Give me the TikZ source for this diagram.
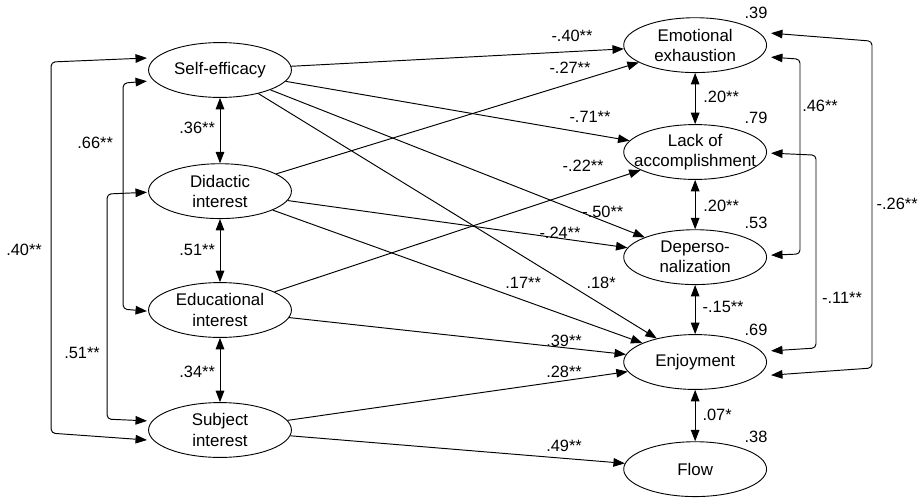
\documentclass[tikz,border=0pt]{standalone}
\usepackage{fontspec}
\setmainfont{Liberation Sans}
\usetikzlibrary{arrows.meta,calc,shapes.geometric}

\begin{document}
\begin{tikzpicture}[x=1cm,y=1cm]
\tikzset{
  latent/.style={ellipse,draw=black,line width=0.9pt,minimum width=5.0cm,minimum height=1.92cm,inner xsep=-14pt,inner ysep=-6pt,align=center,font=\fontsize{16.8}{20}\selectfont},
  coef/.style={inner sep=0pt,font=\fontsize{16.3}{19}\selectfont},
  pathedge/.style={draw=black,line width=0.95pt,line join=round,-{Triangle[length=4.0mm,width=3.0mm]}},
  covedge/.style={draw=black,line width=0.95pt,rounded corners=4pt,{Triangle[length=4.0mm,width=3.0mm]}-{Triangle[length=4.0mm,width=3.0mm]}}
}
\useasboundingbox (0,0) rectangle (32.27,-17.43);
% predictors
\node[latent] (n_se) at (7.70,-2.45) {Self-efficacy};
\node[latent] (n_did) at (7.70,-6.69) {Didactic\\interest};
\node[latent] (n_edu) at (7.70,-10.85) {Educational\\interest};
\node[latent] (n_sub) at (7.70,-15.05) {Subject\\interest};
% outcomes
\node[latent] (n_emo) at (24.33,-1.58) {Emotional\\exhaustion};
\node[latent] (n_lack) at (24.33,-5.32) {Lack of\\accomplishment};
\node[latent] (n_dep) at (24.33,-9.00) {Deperso-\\nalization};
\node[latent] (n_enj) at (24.33,-12.67) {Enjoyment};
\node[latent] (n_flow) at (24.33,-16.42) {Flow};
% explained variance
\node[coef] (r_emo) at (26.46,-0.46) {.39};
\node[coef] (r_lack) at (26.46,-4.13) {.79};
\node[coef] (r_dep) at (26.46,-7.81) {.53};
\node[coef] (r_enj) at (26.46,-11.55) {.69};
\node[coef] (r_flow) at (26.46,-15.30) {.38};
% paths
\draw[pathedge] (n_se) -- (n_emo);
\draw[pathedge] (n_se) -- (n_lack);
\draw[pathedge] (n_se) -- (n_dep);
\draw[pathedge] (n_se) -- (n_enj);
\draw[pathedge] (n_did) -- (n_emo);
\draw[pathedge] (n_did) -- (n_dep);
\draw[pathedge] (n_did) -- (n_enj);
\draw[pathedge] (n_edu) -- (n_lack);
\draw[pathedge] (n_edu) -- (n_enj);
\draw[pathedge] (n_sub) -- (n_enj);
\draw[pathedge] (n_sub) -- (n_flow);
\node[coef] (c_se_emo) at (20.02,-1.26) {-.40**};
\node[coef] (c_did_emo) at (19.95,-2.38) {-.27**};
\node[coef] (c_se_lack) at (20.65,-4.10) {-.71**};
\node[coef] (c_edu_lack) at (20.41,-5.81) {-.22**};
\node[coef] (c_se_dep) at (21.10,-7.42) {-.50**};
\node[coef] (c_did_dep) at (19.60,-8.16) {-.24**};
\node[coef] (c_did_enj) at (18.31,-9.91) {.17**};
\node[coef] (c_se_enj) at (21.04,-9.91) {.18*};
\node[coef] (c_edu_enj) at (19.74,-11.94) {.39**};
\node[coef] (c_sub_enj) at (19.74,-13.02) {.28**};
\node[coef] (c_sub_flow) at (19.74,-15.61) {.49**};
% covariances, predictors
\draw[covedge] (n_se) -- (n_did);
\draw[covedge] (n_did) -- (n_edu);
\draw[covedge] (n_edu) -- (n_sub);
\draw[covedge] ($(n_se.west)+(-0.04,0.42)$) -- (1.79,-2.17) -- (1.79,-15.16) -- ($(n_sub.west)+(-0.04,-0.35)$);
\draw[covedge] ($(n_se.west)+(-0.04,-0.39)$) -- (4.31,-2.91) -- (4.31,-10.82) -- ($(n_edu.west)+(-0.04,-0.04)$);
\draw[covedge] ($(n_did.west)+(-0.04,-0.04)$) -- (3.75,-6.79) -- (3.75,-14.67) -- ($(n_sub.west)+(-0.04,0.32)$);
\node[coef] (c_se_did) at (6.90,-4.48) {.36**};
\node[coef] (c_did_edu) at (6.90,-8.75) {.51**};
\node[coef] (c_edu_sub) at (6.90,-13.02) {.34**};
\node[coef] (c_se_sub) at (0.84,-8.75) {.40**};
\node[coef] (c_se_edu) at (3.33,-5.01) {.66**};
\node[coef] (c_did_sub) at (2.87,-12.36) {.51**};
% covariances, outcomes
\draw[covedge] (n_emo) -- (n_lack);
\draw[covedge] (n_lack) -- (n_dep);
\draw[covedge] (n_dep) -- (n_enj);
\draw[covedge] (n_enj) -- (n_flow);
\draw[covedge] ($(n_emo.east)+(0.14,-0.42)$) -- (28.00,-2.07) -- (28.00,-8.89) -- ($(n_dep.east)+(0.14,0.07)$);
\draw[covedge] ($(n_lack.east)+(0.14,-0.04)$) -- (28.56,-5.43) -- (28.56,-12.18) -- ($(n_enj.east)+(0.14,0.39)$);
\draw[covedge] ($(n_emo.east)+(0.14,0.42)$) -- (30.52,-1.44) -- (30.52,-12.88) -- ($(n_enj.east)+(0.14,-0.46)$);
\node[coef] (c_emo_lack) at (25.24,-3.40) {.20**};
\node[coef] (c_lack_dep) at (25.24,-7.21) {.20**};
\node[coef] (c_dep_enj) at (25.31,-10.75) {-.15**};
\node[coef] (c_enj_flow) at (25.10,-14.53) {.07*};
\node[coef] (c_emo_dep) at (28.70,-3.71) {.46**};
\node[coef] (c_lack_enj) at (29.47,-10.43) {-.11**};
\node[coef] (c_emo_enj) at (31.40,-7.14) {-.26**};
\end{tikzpicture}
\end{document}
